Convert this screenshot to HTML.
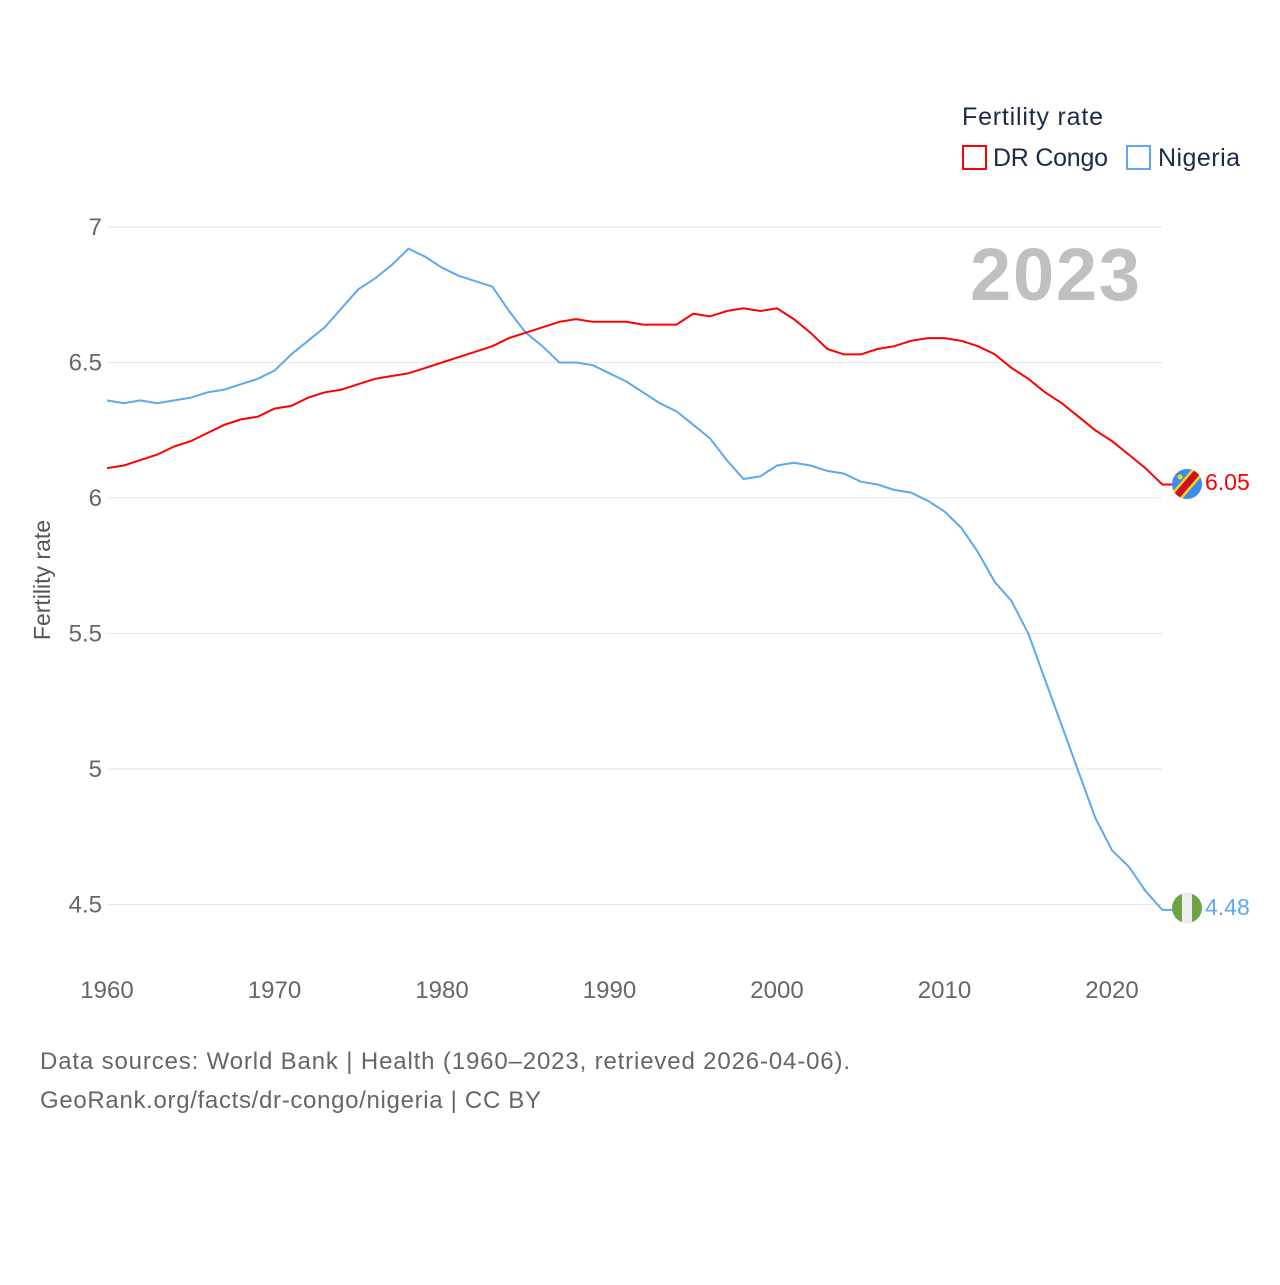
<!DOCTYPE html>
<html><head><meta charset="utf-8"><style>
body{margin:0;background:#fff;font-family:"Liberation Sans",sans-serif}
svg text{font-family:"Liberation Sans",sans-serif}
</style></head><body>
<svg width="1280" height="1280" viewBox="0 0 1280 1280">
<g id="grid"></g>
<g id="yt"></g>
<g id="xt"></g>
<text x="1140" y="300" text-anchor="end" font-size="74" font-weight="bold" fill="#c0c0c0" textLength="170">2023</text>
<text transform="translate(50,580) rotate(-90)" text-anchor="middle" font-size="23" fill="#555">Fertility rate</text>
<g id="lines"></g>
<g>
<text x="962" y="125" font-size="25" fill="#1a2b4a" textLength="141">Fertility rate</text>
<g><rect x="963" y="146" width="23" height="23" fill="none" stroke="#f00" stroke-width="2"/><text x="993" y="166" font-size="25" fill="#1a2b4a" textLength="115">DR Congo</text></g>
<g><rect x="1127" y="146" width="23" height="23" fill="none" stroke="#5ea8ee" stroke-width="2"/><text x="1158" y="166" font-size="25" fill="#1a2b4a" textLength="82">Nigeria</text></g>
</g>
<defs>
<clipPath id="c1"><circle cx="1187" cy="484" r="15"/></clipPath>
<clipPath id="c2"><circle cx="1187" cy="908" r="15"/></clipPath>
</defs>
<g clip-path="url(#c1)">
<rect x="1170" y="467" width="34" height="34" fill="#3a8df0"/>
<line x1="1168" y1="506" x2="1206" y2="462" stroke="#f7d618" stroke-width="12"/>
<line x1="1168" y1="506" x2="1206" y2="462" stroke="#ce1021" stroke-width="7"/>
<circle cx="1180" cy="477" r="2.5" fill="#f7d618"/>
</g>
<g clip-path="url(#c2)">
<rect x="1170" y="891" width="34" height="34" fill="#6da544"/>
<rect x="1182" y="891" width="10" height="34" fill="#eee"/>
</g>
<text x="1205" y="490" font-size="23" fill="#f00">6.05</text>
<text x="1205" y="915" font-size="23" fill="#5ea8ee">4.48</text>
<text x="40" y="1069" font-size="24" fill="#666" textLength="810">Data sources: World Bank | Health (1960–2023, retrieved 2026-04-06).</text>
<text x="40" y="1108" font-size="24" fill="#666" textLength="501">GeoRank.org/facts/dr-congo/nigeria | CC BY</text>
</svg>
<script>
const years=[];for(let y=1960;y<=2023;y++)years.push(y);
const drCongo=[6.11,6.12,6.14,6.16,6.19,6.21,6.24,6.27,6.29,6.30,6.33,6.34,6.37,6.39,6.40,6.42,6.44,6.45,6.46,6.48,6.50,6.52,6.54,6.56,6.59,6.61,6.63,6.65,6.66,6.65,6.65,6.65,6.64,6.64,6.64,6.68,6.67,6.69,6.70,6.69,6.70,6.66,6.61,6.55,6.53,6.53,6.55,6.56,6.58,6.59,6.59,6.58,6.56,6.53,6.48,6.44,6.39,6.35,6.30,6.25,6.21,6.16,6.11,6.05];
const nigeria=[6.36,6.35,6.36,6.35,6.36,6.37,6.39,6.40,6.42,6.44,6.47,6.53,6.58,6.63,6.70,6.77,6.81,6.86,6.92,6.89,6.85,6.82,6.80,6.78,6.69,6.61,6.56,6.50,6.50,6.49,6.46,6.43,6.39,6.35,6.32,6.27,6.22,6.14,6.07,6.08,6.12,6.13,6.12,6.10,6.09,6.06,6.05,6.03,6.02,5.99,5.95,5.89,5.80,5.69,5.62,5.50,5.33,5.16,4.99,4.82,4.70,4.64,4.55,4.48];
const yTicks=[4.5,5,5.5,6,6.5,7];
const xTicks=[1960,1970,1980,1990,2000,2010,2020];
const X=v=>107+(v-1960)*16.75, Y=v=>227+(7-v)*271;
const NS='http://www.w3.org/2000/svg';
function mk(t,a,p){const e=document.createElementNS(NS,t);for(const k in a)e.setAttribute(k,a[k]);p.appendChild(e);return e;}
const grid=document.getElementById('grid'),yt=document.getElementById('yt'),xt=document.getElementById('xt'),lines=document.getElementById('lines');
yTicks.forEach(v=>{const l=mk('line',{x1:107,x2:1162,y1:Y(v),y2:Y(v),stroke:'#e6e6e6','stroke-width':1},grid);


const t=mk('text',{x:102,y:Y(v)+8,'text-anchor':'end','font-size':24,fill:'#666'},yt);t.textContent=String(v);

});
xTicks.forEach(v=>{const t=mk('text',{x:X(v),y:998,'text-anchor':'middle','font-size':24,fill:'#666'},xt);t.textContent=v;

});
function line(d,c,n){const last=d[d.length-1];
const p=mk('path',{d:d.map((v,i)=>(i?'L':'M')+X(years[i]).toFixed(1)+','+Y(v).toFixed(1)).join('')+'L'+(X(years[years.length-1])+10)+','+Y(last).toFixed(1),fill:'none',stroke:c,'stroke-width':2},lines);

}
line(nigeria,'#5ea8ee','line-nigeria');
line(drCongo,'#f00','line-drcongo');
</script>
</body></html>
